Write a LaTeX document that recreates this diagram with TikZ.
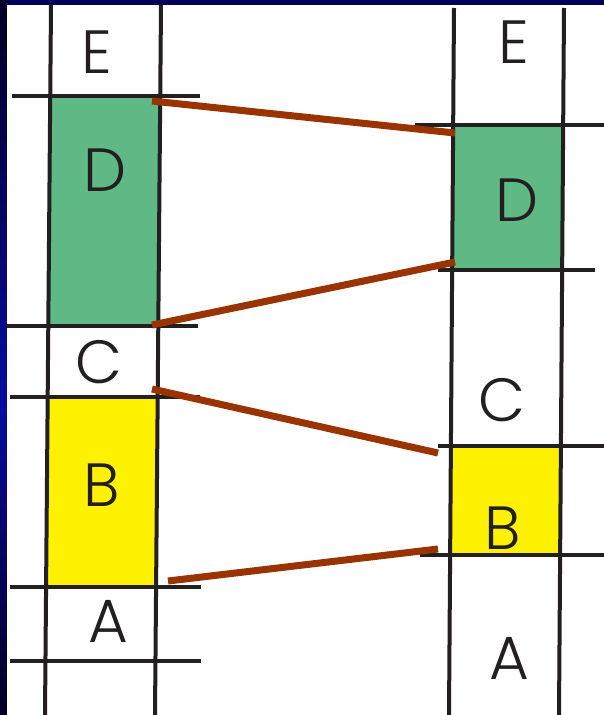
\documentclass[tikz,border=0pt]{standalone}
\usepackage{fontspec}
\setmainfont{Poppins}[UprightFont=* Light]
\definecolor{navy}{HTML}{00005A}
\definecolor{navydark}{HTML}{000022}
\definecolor{navyblue}{HTML}{0A0AA0}
\definecolor{boxgreen}{HTML}{5FB985}
\definecolor{boxyellow}{HTML}{FFF200}
\definecolor{linkred}{HTML}{993300}
\definecolor{ink}{HTML}{231F20}
\tikzset{
  grid/.style={draw=ink, line width=4pt},
  link/.style={draw=linkred, line width=7pt},
  letter/.style={font=\fontsize{61}{61}\selectfont, text=ink, inner sep=0pt, anchor=center},
}
\begin{document}
\begin{tikzpicture}[x={(1pt,0)}, y={(0,-1pt)}]
\useasboundingbox (0,0) rectangle (604,715);
% background
\fill[navy] (0,0) rectangle (604,715);
\shade[top color=navydark, bottom color=navyblue] (0,0) rectangle (7,400);
\shade[top color=navyblue, bottom color=navydark] (0,400) rectangle (7,715);
\fill[white] (7,5) rectangle (604,715);
% fills
\fill[boxgreen] (51,96) -- (161,96) -- (159,326) -- (49,326) -- cycle;
\fill[boxyellow] (49,397) -- (159,397) -- (157,587) -- (47,587) -- cycle;
\fill[boxgreen] (453,125) -- (563,125) -- (562,270) -- (452,270) -- cycle;
\fill[boxyellow] (451,446) -- (561,446) -- (560,555) -- (450,555) -- cycle;
% left column grid
\draw[grid] (51,5) -- (45,715);
\draw[grid] (161,5) -- (155,715);
\draw[grid] (12,96) -- (200,96);
\draw[grid] (7,326) -- (198,326);
\draw[grid] (10,397) -- (200,397);
\draw[grid] (10,587) -- (201,587);
\draw[grid] (10,661) -- (201,661);
% right column grid
\draw[grid] (454,8) -- (449,715);
\draw[grid] (564,8) -- (559,715);
\draw[grid] (415,125) -- (604,125);
\draw[grid] (438,270) -- (595,270);
\draw[grid] (438,446) -- (604,446);
\draw[grid] (420,555) -- (604,555);
% letters
\node[letter] (lE) at (97,52) {E};
\node[letter] (lD) at (105,170) {D};
\node[letter] (lC) at (99,362) {C};
\node[letter] (lB) at (102,485) {B};
\node[letter] (lA) at (108,621) {A};
\node[letter] (rE) at (514,42) {E};
\node[letter] (rD) at (517,200) {D};
\node[letter] (rC) at (502,400) {C};
\node[letter] (rB) at (503,528) {B};
\node[letter] (rA) at (509,658) {A};
% link end points
\coordinate (lDtop) at (152,101);
\coordinate (rDtop) at (455,133);
\coordinate (lDbot) at (152,325);
\coordinate (rDbot) at (455,262);
\coordinate (lBtop) at (152,389);
\coordinate (rBtop) at (438,453);
\coordinate (lBbot) at (168,581);
\coordinate (rBbot) at (438,549);
\draw[link] (lDtop) -- (rDtop);
\draw[link] (lDbot) -- (rDbot);
\draw[link] (lBtop) -- (rBtop);
\draw[link] (lBbot) -- (rBbot);
\end{tikzpicture}
\end{document}
